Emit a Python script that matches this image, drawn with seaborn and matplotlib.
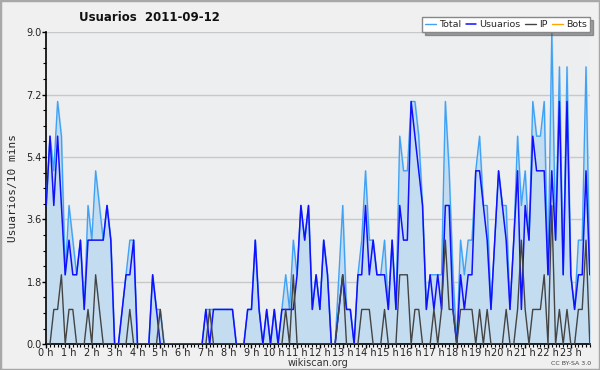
import numpy as np
import pandas as pd
import matplotlib
matplotlib.use("Agg")
import matplotlib.pyplot as plt
import seaborn as sns
from matplotlib.patches import Rectangle

# one value every 10 minutes, 2011-09-12
total = [4, 6, 5, 7, 6, 2, 4, 3, 2, 3, 1, 4, 3, 5, 4, 3, 4, 3, 0, 0, 1, 2, 3, 3,
         0, 0, 0, 0, 2, 1, 1, 0, 0, 0, 0, 0, 0, 0, 0, 0, 0, 0, 1, 1, 1, 1, 1, 1,
         1, 1, 0, 0, 0, 1, 1, 3, 1, 0, 1, 0, 1, 0, 1, 2, 1, 3, 2, 4, 3, 4, 1, 2,
         1, 3, 2, 0, 0, 2, 4, 1, 1, 0, 2, 3, 5, 3, 3, 2, 2, 3, 1, 3, 1, 6, 5, 5,
         7, 7, 6, 4, 1, 2, 2, 2, 2, 7, 5, 2, 0, 3, 2, 3, 3, 5, 6, 4, 4, 1, 3, 5,
         4, 4, 1, 3, 6, 4, 5, 3, 7, 6, 6, 7, 2, 9, 3, 8, 2, 8, 2, 1, 3, 3, 8, 2]
usuarios = [4, 6, 4, 6, 4, 2, 3, 2, 2, 3, 1, 3, 3, 3, 3, 3, 4, 3, 0, 0, 1, 2, 2, 3,
            0, 0, 0, 0, 2, 1, 0, 0, 0, 0, 0, 0, 0, 0, 0, 0, 0, 0, 1, 0, 1, 1, 1, 1,
            1, 1, 0, 0, 0, 1, 1, 3, 1, 0, 1, 0, 1, 0, 1, 1, 1, 1, 2, 4, 3, 4, 1, 2,
            1, 3, 2, 0, 0, 1, 2, 1, 1, 0, 2, 2, 4, 2, 3, 2, 2, 2, 1, 3, 1, 4, 3, 3,
            7, 6, 5, 4, 1, 2, 1, 2, 1, 4, 4, 1, 0, 2, 1, 2, 2, 5, 5, 4, 3, 1, 3, 5,
            4, 3, 1, 3, 5, 1, 4, 3, 6, 5, 5, 5, 2, 5, 3, 7, 2, 7, 2, 1, 2, 2, 5, 2]
ip = [0, 0, 1, 1, 2, 0, 1, 1, 0, 0, 0, 1, 0, 2, 1, 0, 0, 0, 0, 0, 0, 0, 1, 0,
      0, 0, 0, 0, 0, 0, 1, 0, 0, 0, 0, 0, 0, 0, 0, 0, 0, 0, 0, 1, 0, 0, 0, 0,
      0, 0, 0, 0, 0, 0, 0, 0, 0, 0, 0, 0, 0, 0, 0, 1, 0, 2, 0, 0, 0, 0, 0, 0,
      0, 0, 0, 0, 0, 1, 2, 0, 0, 0, 0, 1, 1, 1, 0, 0, 0, 1, 0, 0, 0, 2, 2, 2,
      0, 1, 1, 0, 0, 0, 1, 0, 1, 3, 1, 1, 0, 1, 1, 1, 1, 0, 1, 0, 1, 0, 0, 0,
      0, 1, 0, 0, 1, 3, 1, 0, 1, 1, 1, 2, 0, 4, 0, 1, 0, 1, 0, 0, 1, 1, 3, 0]
bots = [0] * 144
hour_labels = [f"{h} h" for h in range(24)]
y_ticks = [0.0, 1.8, 3.6, 5.4, 7.2, 9.0]

df = pd.DataFrame({"slot": np.arange(len(total)), "Total": total,
                   "Usuarios": usuarios, "IP": ip, "Bots": bots})

sns.set_style("white")
fig = plt.figure(figsize=(6, 3.7), dpi=100, facecolor="#f0f0f0")
fig.patches.append(Rectangle((0, 0), 1, 1, transform=fig.transFigure, fill=False,
                             edgecolor="#a8a8a8", linewidth=2.5))
ax = fig.add_axes([0.077, 0.07, 0.906, 0.843])
ax.set_facecolor("#eceef0")

ax.fill_between(df["slot"], df["Total"], color="#c4dcf0", zorder=1)
sns.lineplot(data=df, x="slot", y="Bots", color="#ffa500", lw=1, ax=ax, label="Bots", zorder=2)
sns.lineplot(data=df, x="slot", y="Total", color="#40a2f5", lw=1.0, ax=ax, label="Total", zorder=3)
sns.lineplot(data=df, x="slot", y="Usuarios", color="#1010ff", lw=1.1, ax=ax, label="Usuarios", zorder=4)
sns.lineplot(data=df, x="slot", y="IP", color="#444444", lw=1, ax=ax, label="IP", zorder=5)

ax.set_xlim(0, 143)
ax.set_ylim(0, 9)
ax.set_yticks(y_ticks)
ax.set_yticklabels([f"{v:.1f}" for v in y_ticks])
ax.set_yticks(np.arange(0, 9.01, 0.45), minor=True)
ax.set_xticks(np.arange(0, 144, 6))
ax.set_xticklabels(hour_labels)
ax.set_xticks(np.arange(0, 144, 1), minor=True)
ax.tick_params(axis="both", which="major", labelsize=7, length=3, width=1,
               color="black", pad=0, labelcolor="#222222")
ax.tick_params(axis="both", which="minor", length=2.2, width=0.8, color="black")
ax.tick_params(axis="x", which="both", bottom=True)
ax.tick_params(axis="y", which="both", left=True)
ax.grid(axis="y", which="major", color="#c8c8c8", lw=1)
ax.set_axisbelow(True)
for s in ["top", "right"]:
    ax.spines[s].set_visible(False)
for s in ["left", "bottom"]:
    ax.spines[s].set_color("black")
    ax.spines[s].set_linewidth(1.2)

ax.set_ylabel("Usuarios/10 mins", family="DejaVu Sans Mono", fontsize=8, labelpad=6)
ax.set_xlabel("wikiscan.org", fontsize=7, labelpad=0, color="#333333")
ax.set_title("Usuarios  2011-09-12", fontsize=8.5, fontweight="bold",
             x=0.19, y=1.035, pad=0, color="#111111")
fig.text(0.985, 0.014, "CC BY-SA 3.0", fontsize=4.5, ha="right", color="#444444")

handles, labels = ax.get_legend_handles_labels()
order = [labels.index(n) for n in ["Total", "Usuarios", "IP", "Bots"]]
ax.legend([handles[i] for i in order], [labels[i] for i in order], ncol=4,
          loc="upper right", bbox_to_anchor=(0.983, 0.953), bbox_transform=fig.transFigure,
          fontsize=6.8, frameon=True, fancybox=False, shadow=True, edgecolor="#888888",
          facecolor="white", framealpha=1, handlelength=1.1, handletextpad=0.35,
          columnspacing=0.5, borderpad=0.3, borderaxespad=0)

fig.savefig("out.png", dpi=100, facecolor=fig.get_facecolor())
